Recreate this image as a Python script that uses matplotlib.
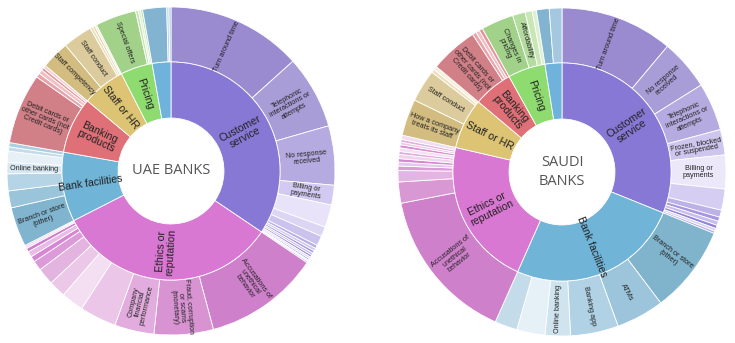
import numpy as np
import matplotlib.pyplot as plt

plt.rcParams['font.family'] = ['Liberation Sans', 'DejaVu Sans']

# ---- UAE banks (ring totals = 360) ----
uae_inner_labels = ['Customer\nservice', 'Ethics or\nreputation', 'Bank facilities',
                    'Banking\nproducts', 'Staff or HR', 'Pricing', '']
uae_inner_values = [124, 119, 37, 30, 23, 17, 10]

uae_outer_labels = [
    # customer service
    'Turn around time', 'Telephonic\ninteractions or\nattempts', 'No response\nreceived',
    'Billing or\npayments', '', '', '', '', '', '', '', '', '', '', '', '',
    # ethics or reputation
    'Accusations of\nunethical\nbehavior', 'Fraud, corruption\nor scams\n(monetary)',
    'Company\nfinancial\nperformance', '', '', '', '', '', '', '', '', '', '',
    # bank facilities
    'Branch or store\n(other)', '', '', 'Online banking', '', '', '',
    # banking products
    'Debit cards or\nother cards (not\nCredit cards)', '', '', '', '',
    # staff or hr
    'Staff competency', 'Staff conduct', '', '', '',
    # pricing
    'Special offers', '', '', '',
    # other
    '', '', '',
]
uae_outer_values = [
    48, 26, 21, 7, 8, 3.5, 3.5, 1.2, 1.0, 0.9, 0.8, 0.8, 0.7, 0.6, 0.5, 0.5,
    41, 21, 14, 13, 8, 6, 6, 3.5, 2, 2, 1.3, 0.7, 0.5,
    14, 6, 6, 4, 4, 1.5, 1.5,
    25, 1.5, 1.5, 1, 1,
    10, 10.5, 1, 0.8, 0.7,
    14.5, 1, 0.8, 0.7,
    8.5, 0.8, 0.7,
]

# ---- Saudi banks ----
ksa_inner_labels = ['Customer\nservice', 'Bank facilities', 'Ethics or\nreputation',
                    'Staff or HR', 'Banking\nproducts', 'Pricing', '']
ksa_inner_values = [112, 92, 79, 27, 21, 20, 9]

ksa_outer_labels = [
    # customer service
    'Turn around time', 'No response\nreceived', 'Telephonic\ninteractions or\nattempts',
    'Frozen, blocked\nor suspended', 'Billing or\npayments', '', '', '', '', '', '', '',
    # bank facilities
    'Branch or store\n(other)', 'ATMs', 'Banking app', 'Online banking', '', '',
    # ethics or reputation
    'Accusations of\nunethical\nbehavior', '', '', '', '', '', '', '', '', '', '', '', '',
    # staff or hr
    'How a company\ntreats its staff', 'Staff conduct', '', '',
    # banking products
    'Debit cards or\nother cards (not\nCredit cards)', '', '', '',
    # pricing
    'Changes in\npricing', 'Affordability', '', '',
    # other
    '', '',
]
ksa_outer_values = [
    40, 18, 17, 9, 12, 7.5, 2.5, 1.5, 1.5, 1.2, 1.0, 0.8,
    31, 17, 17, 9, 10, 8,
    55, 7.5, 4, 1.6, 1.4, 1.2, 1.5, 1.0, 1.3, 1.1, 0.9, 1.0, 1.5,
    13, 11.5, 1.2, 1.3,
    17, 1.4, 1.3, 1.3,
    11.5, 4.5, 2.5, 1.5,
    4.5, 4.5,
]

# ---- colours ----
uae_inner_colors = ['#8878d6', '#d878d2', '#70b4d8', '#e07078', '#dcc474', '#8edc70', '#6fb2dc']
uae_outer_colors = (
    ['#9a8ad0', '#a99dd8', '#b6abe0', '#d2caf0', '#e8e3f8', '#dcd6f4', '#cbc3ee',
     '#b8aee6', '#d0c8f0', '#a899e0', '#c4bbec', '#9f8fdc', '#ddd8f5', '#b0a5e5',
     '#e8e4f8', '#c0b5ea']
    + ['#cf80cb', '#d894d2', '#e2acde', '#ecc6e8', '#f4def2', '#ecc8e8', '#e4b4e0',
       '#dc9ad8', '#d886d4', '#e8bce6', '#d07ccc', '#f0d4ee', '#e2a8de']
    + ['#80b4cf', '#9ac4da', '#b5d4e5', '#d7e8f2', '#e6f0f6', '#c4dcea', '#acd0e2']
    + ['#d28088', '#e8a4aa', '#f0c0c4', '#e4969c', '#f4d0d2']
    + ['#d2bc80', '#dccb9c', '#ecdfbc', '#e4d4a8', '#f4ecd6']
    + ['#a2d28a', '#c4e4b4', '#d8eecc', '#b8dea4']
    + ['#82b4d2', '#b8d6e8', '#9cc6de']
)
ksa_inner_colors = ['#8878d6', '#70b4d8', '#d878d2', '#dcc474', '#e07078', '#8edc70', '#6fb2dc']
ksa_outer_colors = (
    ['#9a8ad0', '#a99dd8', '#b6abe0', '#cfc6ee', '#ece8fa', '#d6cef2', '#bcb2e8',
     '#a897e0', '#c8bfee', '#9484d8', '#d8d2f4', '#b4a9e4']
    + ['#80b4cc', '#9cc4da', '#b0d2e4', '#cfe4ef', '#e6f1f7', '#c4dcea']
    + ['#cf80cb', '#d898d4', '#e6b4e2', '#dc9ad8', '#ecc6e8', '#d686d2', '#f0d4ee',
       '#e2a8de', '#f4e0f2', '#d890d4', '#ecc8e8', '#e4b0e0', '#f2dcf0']
    + ['#d2bc80', '#dccb9c', '#ecdfbc', '#f6efde']
    + ['#d28088', '#e8a4aa', '#f0c0c4', '#e4969c']
    + ['#a2d28a', '#b4dc9e', '#c8e6b6', '#dcf0d0']
    + ['#82b4d2', '#a4c8e0']
)

R_OUT, R_MID, R_IN = 1.0, 0.665, 0.323


def radial_labels(ax, wedges, labels, r, size):
    # text runs along the radius, flipped so it stays readable
    for w, lab in zip(wedges, labels):
        if not lab:
            continue
        a = (w.theta1 + w.theta2) / 2
        x = r * np.cos(np.radians(a))
        y = r * np.sin(np.radians(a))
        rot = a
        while rot > 90:
            rot -= 180
        while rot <= -90:
            rot += 180
        ax.text(x, y, lab, rotation=rot, rotation_mode='anchor', ha='center', va='center',
                fontsize=size, color='#222222', linespacing=1.0)


def sunburst(ax, inner_v, inner_l, inner_c, outer_v, outer_l, outer_c, title):
    wprops = dict(edgecolor='white', linewidth=0.6)
    w_out, _ = ax.pie(outer_v, radius=R_OUT, colors=outer_c, startangle=90,
                      counterclock=False, wedgeprops=dict(width=R_OUT - R_MID, **wprops))
    w_in, _ = ax.pie(inner_v, radius=R_MID, colors=inner_c, startangle=90,
                     counterclock=False, wedgeprops=dict(width=R_MID - R_IN, **wprops))
    radial_labels(ax, w_out, outer_l, (R_OUT + R_MID) / 2, 5.2)
    radial_labels(ax, w_in, inner_l, (R_MID + R_IN) / 2, 7.6)
    ax.text(0, 0, title, ha='center', va='center', fontsize=10.5, color='#555555',
            family=['Open Sans', 'DejaVu Sans'], linespacing=1.3)
    ax.set_xlim(-1, 1)
    ax.set_ylim(-1, 1)
    ax.set_aspect('equal')
    ax.axis('off')


fig = plt.figure(figsize=(7.35, 3.43), dpi=100)
ax1 = fig.add_axes([7 / 735, 8 / 343, 328 / 735, 328 / 343])
ax2 = fig.add_axes([398 / 735, 7 / 343, 328 / 735, 328 / 343])

sunburst(ax1, uae_inner_values, uae_inner_labels, uae_inner_colors,
         uae_outer_values, uae_outer_labels, uae_outer_colors, 'UAE BANKS')
sunburst(ax2, ksa_inner_values, ksa_inner_labels, ksa_inner_colors,
         ksa_outer_values, ksa_outer_labels, ksa_outer_colors, 'SAUDI\nBANKS')

fig.savefig('out.png', dpi=100, facecolor='white')
